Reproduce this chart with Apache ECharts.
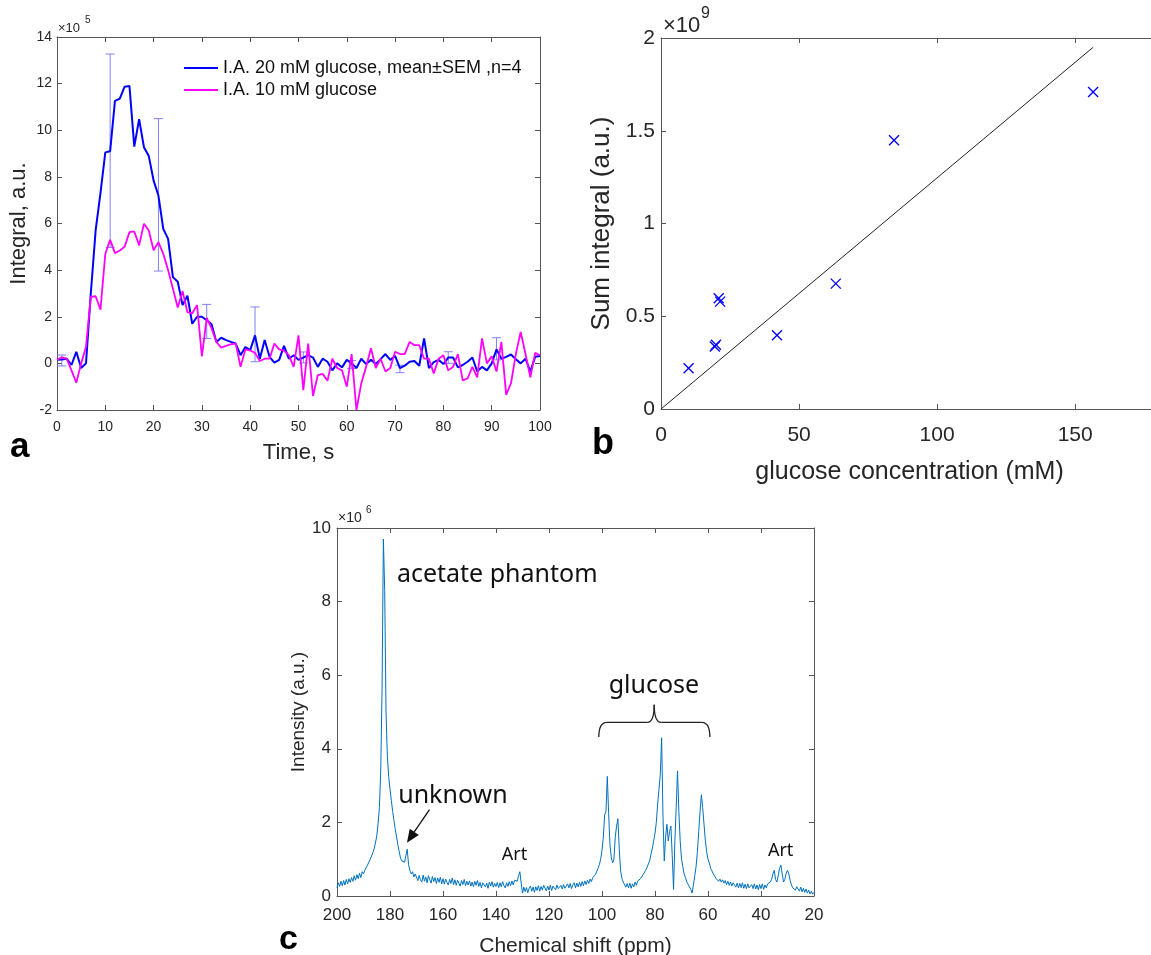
<!DOCTYPE html>
<html><head><meta charset="utf-8">
<script src="https://cdn.jsdelivr.net/npm/echarts@6/dist/echarts.min.js"></script>
<style>html,body{margin:0;padding:0;background:#fff}#c{width:1151px;height:955px}</style>
</head><body><div id="c"></div><script>
// ---------- Panel a data (×10^5) ----------
const timeS = [0,1,2,3,4,5,6,7,8,9,10,11,12,13,14,15,16,17,18,19,20,21,22,23,24,25,26,27,28,29,30,31,32,33,34,35,36,37,38,39,40,41,42,43,44,45,46,47,48,49,50,51,52,53,54,55,56,57,58,59,60,61,62,63,64,65,66,67,68,69,70,71,72,73,74,75,76,77,78,79,80,81,82,83,84,85,86,87,88,89,90,91,92,93,94,95,96,97,98,99,100];
const glucose20 = [0.15,0.17,0.2,-0.07,0.5,-0.2,0.0,3.0,5.7,7.3,9.05,9.1,11.26,11.36,11.87,11.9,9.3,10.48,9.27,8.9,7.84,7.2,5.77,5.34,3.7,3.5,2.5,2.9,1.7,2.0,2.0,1.85,1.68,0.92,1.1,1.0,0.92,0.85,0.35,0.7,0.57,1.2,0.2,1.0,0.28,0.03,0.15,0.75,0.2,0.35,0.15,0.25,0.35,0.25,-0.15,0.2,0.07,-0.3,0.0,-0.17,0.15,0.0,-0.2,0.2,-0.03,0.15,-0.03,0.18,0.4,0.15,0.32,-0.2,-0.1,0.07,0.1,-0.1,1.07,-0.2,0.05,0.15,-0.03,0.25,0.25,-0.17,-0.07,0.07,0.25,-0.35,-0.15,-0.3,0.0,0.6,0.2,0.28,0.38,0.18,0.0,0.2,-0.35,0.28,0.32];
const glucose10 = [0.15,0.26,0.2,-0.3,-0.83,0.0,0.7,2.85,2.88,2.3,4.7,5.3,4.73,4.84,5.0,5.63,5.66,5.06,5.99,5.7,4.85,5.2,4.7,4.0,3.2,2.4,3.1,2.2,2.15,2.5,0.3,1.95,1.5,0.92,0.67,0.75,0.82,0.85,-0.15,0.6,0.55,0.45,0.1,0.2,0.2,0.85,0.6,0.55,0.35,-0.15,1.2,-1.15,0.85,-1.4,-0.5,-0.45,-0.75,0.2,-0.2,-0.3,-1.0,0.4,-2.0,-0.85,-0.15,0.65,-0.2,0.2,-0.35,-0.2,0.5,0.4,0.4,0.92,0.78,0.78,0.2,0.2,-0.43,0.2,0.35,-0.3,-0.15,0.4,-0.73,-0.65,-0.15,-0.6,1.07,0.0,0.3,-0.35,0.92,-1.35,-0.85,0.4,1.35,0.4,-0.6,0.45,0.35];
const errTime = [1,11,21,31,41,51,61,71,81,91];
const errLow  = [-0.11,4.97,3.96,1.07,0.07,0.02,-0.22,-0.4,0.0,0.15];
const errHigh = [0.36,13.27,10.5,2.53,2.42,0.49,0.12,-0.08,0.5,1.1];
const legendNames = ['I.A. 20 mM glucose, mean\u00b1SEM ,n=4','I.A. 10 mM glucose'];

// ---------- Panel b data (×10^9) ----------
const concMM = [10,19.5,19.9,20.9,21.4,42,63.3,84.4,156.5];
const sumIntegral = [0.22,0.337,0.346,0.597,0.579,0.398,0.676,1.449,1.709];
const fitConc = [0,156.5];
const fitSum = [0,1.95];

// ---------- Panel c data (×10^6) ----------
const ppm = [200,199.5,199,198.5,198,197.5,197,196.5,196,195.5,195,194.5,194,193.5,193,192.5,192,191.5,191,190.5,
190,189.5,189,188.5,188,187.5,187,186.5,186,185.5,185,184.5,184,183.5,183,182.5,182,181.5,181,180.5,
180,179.5,179,178.5,178,177.5,177,176.5,176,175.5,175,174.5,174,173.5,173,172.5,172,171.5,171,170.5,
170,169.5,169,168.5,168,167.5,167,166.5,166,165.5,165,164.5,164,163.5,163,162.5,162,161.5,161,160.5,
160,159.5,159,158.5,158,157.5,157,156.5,156,155.5,155,154.5,154,153.5,153,152.5,152,151.5,151,150.5,
150,149.5,149,148.5,148,147.5,147,146.5,146,145.5,145,144.5,144,143.5,143,142.5,142,141.5,141,140.5,
140,139.5,139,138.5,138,137.5,137,136.5,136,135.5,135,134.5,134,133.5,133,132.5,132,131.5,131,130.5,
130,129.5,129,128.5,128,127.5,127,126.5,126,125.5,125,124.5,124,123.5,123,122.5,122,121.5,121,120.5,
120,119.5,119,118.5,118,117.5,117,116.5,116,115.5,115,114.5,114,113.5,113,112.5,112,111.5,111,110.5,
110,109.5,109,108.5,108,107.5,107,106.5,106,105.5,105,104.5,104,103.5,103,102.5,102,101.5,101,100.5,
100,99.5,99,98.5,98,97.5,97,96.5,96,95.5,95,94.5,94,93.5,93,92.5,92,91.5,91,90.5,
90,89.5,89,88.5,88,87.5,87,86.5,86,85.5,85,84.5,84,83.5,83,82.5,82,81.5,81,80.5,
80,79.5,79,78.5,78,77.5,77,76.5,76,75.5,75,74.5,74,73.5,73,72.5,72,71.5,71,70.5,
70,69.5,69,68.5,68,67.5,67,66.5,66,65.5,65,64.5,64,63.5,63,62.5,62,61.5,61,60.5,
60,59.5,59,58.5,58,57.5,57,56.5,56,55.5,55,54.5,54,53.5,53,52.5,52,51.5,51,50.5,
50,49.5,49,48.5,48,47.5,47,46.5,46,45.5,45,44.5,44,43.5,43,42.5,42,41.5,41,40.5,
40,39.5,39,38.5,38,37.5,37,36.5,36,35.5,35,34.5,34,33.5,33,32.5,32,31.5,31,30.5,
30,29.5,29,28.5,28,27.5,27,26.5,26,25.5,25,24.5,24,23.5,23,22.5,22,21.5,21,20.5,20];
const intensity = [0.22,0.36,0.26,0.40,0.28,0.42,0.30,0.45,0.33,0.47,0.37,0.50,0.40,0.55,0.43,0.58,0.47,0.62,0.50,0.66,
0.60,0.70,0.72,0.84,0.86,0.99,1.03,1.17,1.28,1.44,1.63,1.97,2.4,3.4,5.6,9.7,8.3,5.0,3.8,3.25,
2.9,2.6,2.3,2.05,1.8,1.6,1.38,1.2,1.02,0.95,0.9,0.92,1.1,1.27,0.85,0.7,0.6,0.66,0.52,0.6,
0.58,0.42,0.56,0.44,0.38,0.57,0.40,0.52,0.36,0.55,0.44,0.35,0.53,0.39,0.50,0.34,0.49,0.37,0.51,0.33,
0.47,0.32,0.46,0.37,0.30,0.45,0.34,0.49,0.31,0.44,0.29,0.43,0.35,0.27,0.42,0.31,0.45,0.28,0.40,0.30,
0.41,0.27,0.38,0.25,0.40,0.29,0.42,0.26,0.37,0.22,0.36,0.40,0.25,0.35,0.21,0.38,0.27,0.39,0.24,0.34,
0.26,0.37,0.23,0.36,0.25,0.39,0.28,0.22,0.36,0.26,0.39,0.28,0.41,0.30,0.43,0.45,0.40,0.55,0.66,0.35,
0.08,0.24,0.12,0.23,0.09,0.21,0.27,0.13,0.24,0.10,0.25,0.15,0.28,0.13,0.26,0.16,0.29,0.34,0.14,0.27,
0.16,0.29,0.15,0.27,0.31,0.17,0.30,0.20,0.15,0.29,0.19,0.31,0.21,0.17,0.33,0.22,0.34,0.20,0.30,0.36,
0.22,0.35,0.25,0.37,0.26,0.39,0.28,0.41,0.31,0.43,0.34,0.46,0.39,0.50,0.50,0.58,0.62,0.75,0.85,1.0,
1.25,1.6,2.2,2.3,3.25,2.25,1.4,1.05,0.9,1.0,1.6,1.9,2.1,1.3,0.7,0.48,0.38,0.33,0.24,0.34,
0.22,0.35,0.21,0.33,0.25,0.38,0.29,0.41,0.37,0.47,0.45,0.58,0.57,0.70,0.74,0.87,0.96,1.14,1.3,1.5,
1.7,2.0,2.5,2.9,3.3,4.3,2.2,0.95,1.6,1.95,1.5,1.75,1.9,1.1,0.18,1.5,2.4,3.4,2.3,1.5,
1.0,0.8,0.6,0.5,0.38,0.33,0.25,0.18,0.08,0.3,0.55,0.8,1.2,1.75,2.3,2.75,2.4,1.95,1.5,1.2,
1.0,0.9,0.75,0.68,0.6,0.58,0.48,0.52,0.40,0.46,0.38,0.44,0.35,0.42,0.31,0.40,0.29,0.38,0.27,0.36,
0.37,0.24,0.35,0.22,0.34,0.23,0.36,0.21,0.32,0.20,0.33,0.22,0.18,0.31,0.20,0.33,0.19,0.30,0.17,0.31,
0.20,0.33,0.18,0.30,0.22,0.33,0.33,0.38,0.45,0.60,0.70,0.45,0.38,0.55,0.75,0.84,0.6,0.38,0.45,0.62,
0.70,0.6,0.42,0.3,0.22,0.27,0.16,0.25,0.20,0.13,0.24,0.11,0.21,0.10,0.19,0.08,0.16,0.06,0.13,0.05,0.1];

// ---------- styling ----------
const AX = '#555';
const TXT = '#262626';
const FONT = '"Liberation Sans", Arial, Helvetica, sans-serif';
const ANNO = '"Noto Sans", "Open Sans", sans-serif';

function axis(gridIndex, position, min, max, interval, labelSize, margin, extra) {
  return Object.assign({
    type: 'value', gridIndex: gridIndex, position: position,
    min: min, max: max, interval: interval,
    splitLine: {show: false},
    axisLine: {show: true, onZero: false, lineStyle: {color: AX, width: 1}},
    axisTick: {show: true, inside: true, length: 5, lineStyle: {color: AX, width: 1}},
    axisLabel: labelSize ? {show: true, fontSize: labelSize, color: TXT, fontFamily: FONT, margin: margin} : {show: false}
  }, extra || {});
}
const nameStyle = (s) => ({fontSize: s, color: TXT, fontFamily: FONT});

const xAxes = [
  axis(0, 'bottom', 0, 100, 10, 14, 10, {name: 'Time, s', nameLocation: 'middle', nameGap: 32, nameTextStyle: nameStyle(22)}),
  axis(0, 'top', 0, 100, 10, 0),
  axis(1, 'bottom', 0, 180, 50, 21, 16, {name: 'glucose concentration (mM)', nameLocation: 'middle', nameGap: 51, nameTextStyle: nameStyle(25)}),
  axis(1, 'top', 0, 180, 50, 0),
  axis(2, 'bottom', 20, 200, 20, 17, 11, {inverse: true, name: 'Chemical shift (ppm)', nameLocation: 'middle', nameGap: 40, nameTextStyle: nameStyle(21)}),
  axis(2, 'top', 20, 200, 20, 0, 0, {inverse: true})
];
xAxes[2].axisLabel.showMaxLabel = false;
const yAxes = [
  axis(0, 'left', -2, 14, 2, 14, 5, {name: 'Integral, a.u.', nameLocation: 'middle', nameGap: 27, nameTextStyle: nameStyle(22)}),
  axis(0, 'right', -2, 14, 2, 0),
  axis(1, 'left', 0, 2, 0.5, 21, 6, {name: 'Sum integral (a.u.)', nameLocation: 'middle', nameGap: 46, nameTextStyle: nameStyle(26)}),
  axis(1, 'right', 0, 2, 0.5, 0),
  axis(2, 'left', 0, 10, 2, 17, 6, {name: 'Intensity (a.u.)', nameLocation: 'middle', nameGap: 26, nameTextStyle: nameStyle(19)}),
  axis(2, 'right', 0, 10, 2, 0)
];

const option = {
  animation: false,
  backgroundColor: '#fff',
  grid: [
    {left: 57, top: 37, width: 483, height: 373, outerBoundsMode: 'none', containLabel: false},
    {left: 661, top: 38, width: 497, height: 371, outerBoundsMode: 'none', containLabel: false},
    {left: 337, top: 528, width: 477, height: 368, outerBoundsMode: 'none', containLabel: false}
  ],
  xAxis: xAxes,
  yAxis: yAxes,
  legend: {
    data: legendNames, orient: 'vertical', left: 179, top: 54,
    icon: 'rect', itemWidth: 34, itemHeight: 2, itemGap: 4,
    textStyle: {fontSize: 18, lineHeight: 18, color: '#111', fontFamily: FONT}
  },
  series: [
    {
      type: 'custom', name: 'SEM', xAxisIndex: 0, yAxisIndex: 0, z: 1,
      data: errTime.map((t, i) => [t, errLow[i], errHigh[i]]),
      encode: {x: 0, y: [1, 2]},
      renderItem: function (params, api) {
        const lo = api.coord([api.value(0), api.value(1)]);
        const hi = api.coord([api.value(0), api.value(2)]);
        const w = 4.5, st = {stroke: '#8080ff', lineWidth: 1};
        return {type: 'group', children: [
          {type: 'line', shape: {x1: lo[0], y1: lo[1], x2: hi[0], y2: hi[1]}, style: st},
          {type: 'line', shape: {x1: lo[0] - w, y1: lo[1], x2: lo[0] + w, y2: lo[1]}, style: st},
          {type: 'line', shape: {x1: hi[0] - w, y1: hi[1], x2: hi[0] + w, y2: hi[1]}, style: st}
        ]};
      }
    },
    {
      type: 'line', name: legendNames[0], xAxisIndex: 0, yAxisIndex: 0, z: 3,
      data: timeS.map((t, i) => [t, glucose20[i]]),
      symbol: 'none', lineStyle: {color: '#0000ff', width: 2}, itemStyle: {color: '#0000ff'}
    },
    {
      type: 'line', name: legendNames[1], xAxisIndex: 0, yAxisIndex: 0, z: 4,
      data: timeS.map((t, i) => [t, glucose10[i]]),
      symbol: 'none', lineStyle: {color: '#ff00ff', width: 1.8}, itemStyle: {color: '#ff00ff'}
    },
    {
      type: 'line', xAxisIndex: 2, yAxisIndex: 2,
      data: fitConc.map((c, i) => [c, fitSum[i]]),
      symbol: 'none', lineStyle: {color: '#222', width: 1}
    },
    {
      type: 'custom', xAxisIndex: 2, yAxisIndex: 2,
      data: concMM.map((c, i) => [c, sumIntegral[i]]),
      encode: {x: 0, y: 1},
      renderItem: function (params, api) {
        const p = api.coord([api.value(0), api.value(1)]);
        const h = 5, st = {stroke: '#0000ff', lineWidth: 1.3};
        return {type: 'group', children: [
          {type: 'line', shape: {x1: p[0] - h, y1: p[1] - h, x2: p[0] + h, y2: p[1] + h}, style: st},
          {type: 'line', shape: {x1: p[0] - h, y1: p[1] + h, x2: p[0] + h, y2: p[1] - h}, style: st}
        ]};
      }
    },
    {
      type: 'line', xAxisIndex: 4, yAxisIndex: 4,
      data: ppm.map((p, i) => [p, intensity[i]]),
      symbol: 'none', lineStyle: {color: '#0072bd', width: 1}
    }
  ]
};

const chart = echarts.init(document.getElementById('c'));
chart.setOption(option);

// ---------- annotations / decorations ----------
const P = (x, y) => chart.convertToPixel({seriesIndex: 5}, [x, y]);
const g = [];
function txt(x, y, s, size, opts) {
  g.push({type: 'text', z: 50, style: Object.assign({x: x, y: y, text: s, fontSize: size, fill: '#111', fontFamily: FONT}, opts || {})});
}
// panel letters
txt(10, 447, 'a', 35, {fontWeight: 'bold', verticalAlign: 'middle', fill: '#000'});
txt(592, 444, 'b', 36, {fontWeight: 'bold', verticalAlign: 'middle', fill: '#000'});
txt(279, 940, 'c', 34, {fontWeight: 'bold', verticalAlign: 'middle', fill: '#000'});
// exponent labels
txt(58, 28, '\u00d710', 13, {verticalAlign: 'middle', fill: TXT});
txt(85, 20, '5', 10, {verticalAlign: 'middle', fill: TXT});
txt(663, 26, '\u00d710', 22, {verticalAlign: 'middle', fill: TXT});
txt(701, 14, '9', 16, {verticalAlign: 'middle', fill: TXT});
txt(338, 518, '\u00d710', 14, {verticalAlign: 'middle', fill: TXT});
txt(366, 510, '6', 10, {verticalAlign: 'middle', fill: TXT});

// spectrum annotations
let a = P(177.4, 8.73); txt(a[0], a[1], 'acetate phantom', 25, {fontFamily: ANNO, verticalAlign: 'middle'});
a = P(80.4, 5.7); txt(a[0], a[1], 'glucose', 25, {fontFamily: ANNO, verticalAlign: 'middle', align: 'center'});
a = P(176.9, 2.71); txt(a[0], a[1], 'unknown', 25, {fontFamily: ANNO, verticalAlign: 'middle'});
a = P(133, 1.13); txt(a[0], a[1], 'Art', 18, {fontFamily: ANNO, verticalAlign: 'middle', align: 'center'});
a = P(32.6, 1.22); txt(a[0], a[1], 'Art', 18, {fontFamily: ANNO, verticalAlign: 'middle', align: 'center'});

// brace (bezier + line pieces)
const bl = P(101.2, 4.32), br = P(59.3, 4.32), bm = P(80.3, 4.72), bt = P(80.3, 5.2);
const yh = bm[1];
const bst = {stroke: '#222', lineWidth: 1.3, fill: null};
g.push({type: 'bezierCurve', z: 50, shape: {x1: bl[0], y1: bl[1], cpx1: bl[0], cpy1: yh, x2: bl[0] + 8, y2: yh}, style: bst});
g.push({type: 'line', z: 50, shape: {x1: bl[0] + 8, y1: yh, x2: bm[0] - 7, y2: yh}, style: bst});
g.push({type: 'bezierCurve', z: 50, shape: {x1: bm[0] - 7, y1: yh, cpx1: bm[0], cpy1: yh, x2: bm[0], y2: bt[1]}, style: bst});
g.push({type: 'bezierCurve', z: 50, shape: {x1: bm[0] + 7, y1: yh, cpx1: bm[0], cpy1: yh, x2: bm[0], y2: bt[1]}, style: bst});
g.push({type: 'line', z: 50, shape: {x1: bm[0] + 7, y1: yh, x2: br[0] - 8, y2: yh}, style: bst});
g.push({type: 'bezierCurve', z: 50, shape: {x1: br[0], y1: br[1], cpx1: br[0], cpy1: yh, x2: br[0] - 8, y2: yh}, style: bst});

// arrow
const a0 = P(165.1, 2.35), a1 = P(173.6, 1.45);
const dx = a1[0] - a0[0], dy = a1[1] - a0[1], L = Math.hypot(dx, dy), ux = dx / L, uy = dy / L;
const hl = 13, hw = 5.5;
const bx = a1[0] - ux * hl, by = a1[1] - uy * hl;
g.push({type: 'line', z: 50, shape: {x1: a0[0], y1: a0[1], x2: bx, y2: by}, style: {stroke: '#111', lineWidth: 1.3}});
g.push({type: 'polygon', z: 50, shape: {points: [[a1[0], a1[1]], [bx - uy * hw, by + ux * hw], [bx + uy * hw, by - ux * hw]]}, style: {fill: '#111'}});

chart.setOption({graphic: g});
</script></body></html>
